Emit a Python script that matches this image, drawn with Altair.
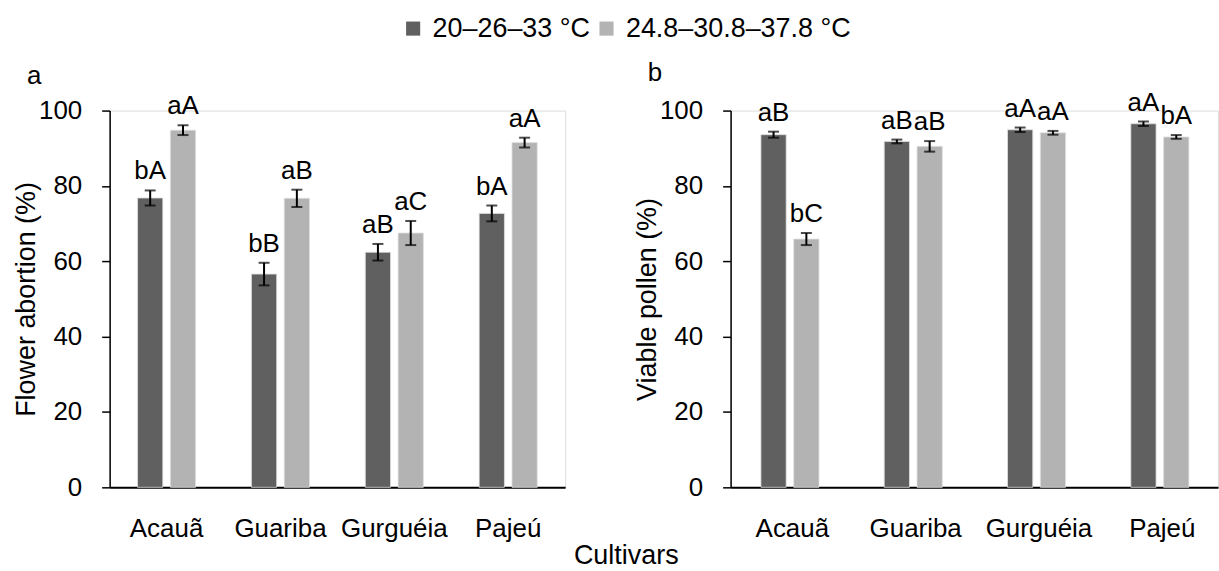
import altair as alt
import pandas as pd

cultivars = ["Acauã", "Guariba", "Gurguéia", "Pajeú"]
regimes = ["20–26–33 °C", "24.8–30.8–37.8 °C"]
colors = ["#606060", "#b3b3b3"]

# Panel a: flower abortion (%)
abort_low = [76.8, 56.6, 62.4, 72.7]
abort_low_err = [2.0, 3.0, 2.2, 2.1]
abort_high = [94.8, 76.7, 67.5, 91.5]
abort_high_err = [1.3, 2.3, 3.2, 1.3]
abort_low_lbl = ["bA", "bB", "aB", "bA"]
abort_high_lbl = ["aA", "aB", "aC", "aA"]

# Panel b: viable pollen (%)
pollen_low = [93.6, 91.8, 94.9, 96.5]
pollen_low_err = [0.8, 0.5, 0.6, 0.6]
pollen_high = [65.9, 90.5, 94.1, 93.0]
pollen_high_err = [1.6, 1.4, 0.5, 0.5]
pollen_low_lbl = ["aB", "aB", "aA", "aA"]
pollen_high_lbl = ["bC", "aB", "aA", "bA"]

FONT = "Liberation Sans"


def make_df(low, low_err, high, high_err, low_lbl, high_lbl):
    rows = []
    for i, c in enumerate(cultivars):
        for reg, v, e, l in [(regimes[0], low[i], low_err[i], low_lbl[i]),
                             (regimes[1], high[i], high_err[i], high_lbl[i])]:
            rows.append({"cultivar": c, "regime": reg, "value": v,
                         "lo": v - e, "hi": v + e, "label": l})
    return pd.DataFrame(rows)


def panel(df, ytitle, letter, width, xscale):
    base = alt.Chart(df).encode(
        x=alt.X("cultivar:N", sort=cultivars, scale=xscale,
                axis=alt.Axis(title=None, labelAngle=0, ticks=False,
                              domainColor="black", domainWidth=2,
                              labelFontSize=26, labelPadding=28,
                              labelColor="black", labelFont=FONT)),
        xOffset=alt.XOffset("regime:N", sort=regimes,
                            scale=alt.Scale(paddingInner=0.23)),
    )
    yscale = alt.Scale(domain=[0, 100], nice=False)
    yaxis = alt.Axis(values=[0, 20, 40, 60, 80, 100], grid=False,
                     domainColor="black", domainWidth=1.5,
                     tickColor="black", tickWidth=1.5, tickSize=8,
                     labelFontSize=26, labelPadding=20, labelColor="black",
                     labelFont=FONT, titleFont=FONT, titleFontSize=27,
                     titleFontWeight="normal", titleColor="black",
                     titlePadding=-2)
    bars = base.mark_bar(stroke="#e0e0e0", strokeWidth=0.8).encode(
        y=alt.Y("value:Q", scale=yscale, axis=yaxis, title=ytitle),
        color=alt.Color("regime:N", sort=regimes,
                        scale=alt.Scale(domain=regimes, range=colors),
                        legend=alt.Legend(title=None, orient="none",
                                          direction="horizontal",
                                          legendX=291, legendY=-96,
                                          symbolType="square",
                                          symbolSize=200,
                                          symbolStrokeWidth=0,
                                          labelFontSize=27,
                                          labelFont=FONT,
                                          labelColor="black",
                                          labelLimit=500,
                                          labelOffset=6,
                                          columnPadding=3)),
    )
    rules = base.mark_rule(color="black", strokeWidth=2).encode(
        y=alt.Y("lo:Q", scale=yscale, title=ytitle), y2="hi:Q")
    cap_lo = base.mark_tick(color="black", thickness=2, size=11).encode(
        y=alt.Y("lo:Q", scale=yscale, title=ytitle))
    cap_hi = base.mark_tick(color="black", thickness=2, size=11).encode(
        y=alt.Y("hi:Q", scale=yscale, title=ytitle))
    text = base.mark_text(baseline="bottom", dy=-6, fontSize=26,
                          font=FONT, color="black").encode(
        y=alt.Y("hi:Q", scale=yscale, title=ytitle), text="label:N")
    return alt.layer(bars, rules, cap_lo, cap_hi, text).properties(
        width=width, height=378,
        title=alt.TitleParams(letter, anchor="start", frame="group",
                              dx=-83, offset=4, fontSize=26, font=FONT,
                              fontWeight="normal", color="black"))


df_a = make_df(abort_low, abort_low_err, abort_high, abort_high_err,
               abort_low_lbl, abort_high_lbl)
df_b = make_df(pollen_low, pollen_low_err, pollen_high, pollen_high_err,
               pollen_low_lbl, pollen_high_lbl)

pa = panel(df_a, "Flower abortion (%)", "a", 457,
           alt.Scale(paddingInner=0.49, paddingOuter=0.245))
pb = panel(df_b, "Viable pollen (%)", "b", 489,
           alt.Scale(paddingInner=0.49, paddingOuter=0.2215, align=0.555))

chart = alt.hconcat(pa, pb, spacing=67).properties(
    title=alt.TitleParams("Cultivars", orient="bottom", anchor="middle",
                          dx=11, fontSize=27, font=FONT, fontWeight="normal",
                          color="black", offset=1),
    padding={"left": 12, "top": 14, "right": 0, "bottom": 0},
).configure_view(stroke=None).configure(background="white")

chart.save("out.html", embed_options={"renderer": "svg", "actions": False})
